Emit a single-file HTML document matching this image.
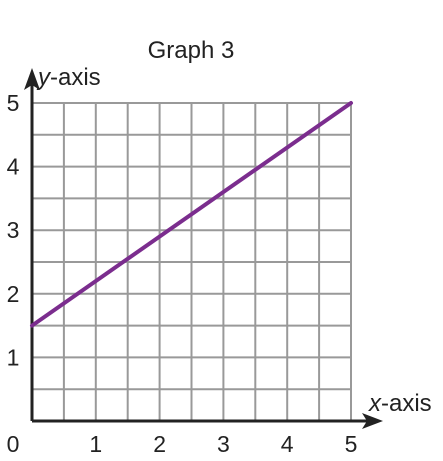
<!DOCTYPE html>
<html><head><meta charset="utf-8"><style>
body{margin:0;background:#fff;}
svg text{font-family:"Liberation Sans",sans-serif;fill:#222;}
</style></head><body>
<svg id="c" width="443" height="456">
<text x="191" y="58" font-size="24" text-anchor="middle">Graph 3</text>
<g id="grid"></g>
<g id="axes"></g>
</svg>
<script>
const xTicks=[0,1,2,3,4,5];
const yTicks=[1,2,3,4,5];
const lineX=[0,5];
const lineY=[1.5,5];
const x0=32,x1=351,y0=421,y1=103;
const sx=v=>x0+(x1-x0)*v/5, sy=v=>y0-(y0-y1)*v/5;
const NS="http://www.w3.org/2000/svg";
const svg=document.getElementById('c');
function mk(t,a,p){const e=document.createElementNS(NS,t);for(const k in a)e.setAttribute(k,a[k]);(p||svg).appendChild(e);return e;}
const g=document.getElementById('grid');
for(let i=1;i<=10;i++){
 let l=mk('line',{x1:sx(i/2),x2:sx(i/2),y1:sy(0),y2:sy(5),stroke:'#999','stroke-width':2},g);
 
 
 let h=mk('line',{x1:sx(0),x2:sx(5),y1:sy(i/2),y2:sy(i/2),stroke:'#999','stroke-width':2},g);
 
 
}
const ln=mk('line',{x1:sx(lineX[0]),y1:sy(lineY[0]),x2:sx(lineX[1]),y2:sy(lineY[1]),stroke:'#7b2d8e','stroke-width':4,'stroke-linecap':'round'});


const a=document.getElementById('axes');
let xa=mk('line',{x1:x0,y1:y0,x2:372,y2:y0,stroke:'#222','stroke-width':3},a);


let xh=mk('polygon',{points:`383,${y0} 362,${y0-8} 367,${y0} 362,${y0+8}`,fill:'#222'},a);


let ya=mk('line',{x1:x0,y1:y0,x2:x0,y2:80,stroke:'#222','stroke-width':3},a);


let yh=mk('polygon',{points:`${x0},68 ${x0-8},90 ${x0},85 ${x0+8},90`,fill:'#222'},a);


xTicks.forEach(v=>{
 let t=mk('text',{x:v===0?13:sx(v),y:452,'font-size':23,'text-anchor':'middle'},a);t.textContent=v;
 
 
});
yTicks.forEach(v=>{
 let t=mk('text',{x:13,y:sy(v)+8,'font-size':23,'text-anchor':'middle'},a);t.textContent=v;
 
 
});
let yt=mk('text',{x:38,y:85,'font-size':24},a);yt.innerHTML='<tspan font-style="italic">y</tspan>-axis';


let xt=mk('text',{x:369,y:411,'font-size':24},a);xt.innerHTML='<tspan font-style="italic">x</tspan>-axis';


</script>
</body></html>
